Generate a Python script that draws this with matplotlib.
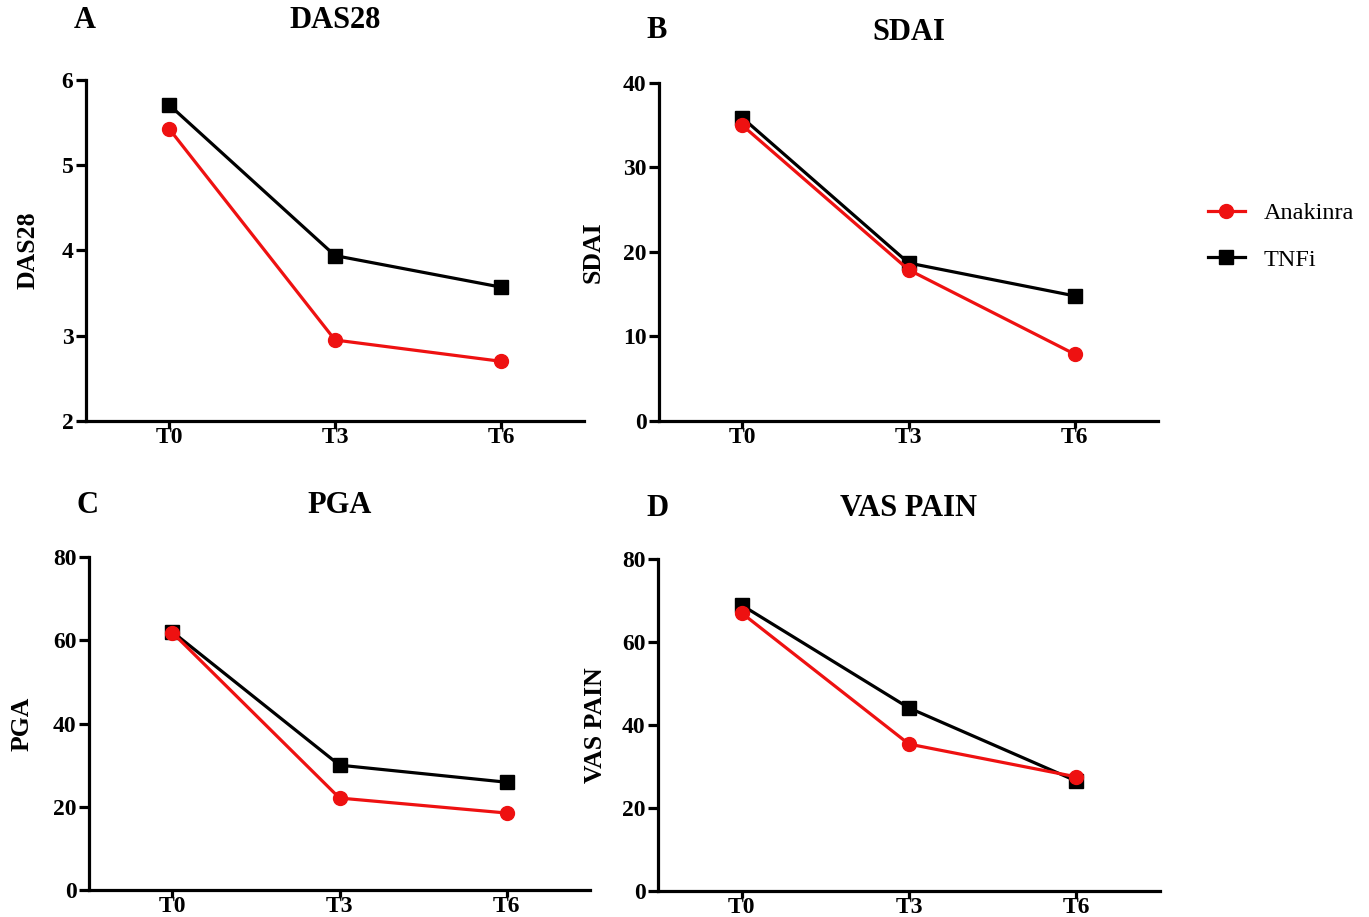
import matplotlib
matplotlib.use('Agg')
import matplotlib.pyplot as plt

plt.rcParams['font.family'] = ['Liberation Serif', 'DejaVu Serif']
plt.rcParams['font.weight'] = 'bold'

timepoints = ['T0', 'T3', 'T6']

das28_anakinra = [5.43, 2.95, 2.70]
das28_tnfi = [5.71, 3.94, 3.57]
sdai_anakinra = [35.0, 17.9, 7.9]
sdai_tnfi = [35.9, 18.7, 14.8]
pga_anakinra = [61.8, 22.1, 18.5]
pga_tnfi = [62.0, 30.0, 25.9]
vas_anakinra = [67.0, 35.4, 27.5]
vas_tnfi = [68.9, 44.1, 26.5]

panels = [
    # letter, title, anakinra, tnfi, ylim, yticks, axes rect, letter xy, title y, ylabel pad
    ('A', 'DAS28', das28_anakinra, das28_tnfi, (2, 6), [2, 3, 4, 5, 6],
     [0.0628, 0.5409, 0.3638, 0.3719], (0.062, 0.978), 0.978, 16),
    ('B', 'SDAI', sdai_anakinra, sdai_tnfi, (0, 40), [0, 10, 20, 30, 40],
     [0.4814, 0.5409, 0.3645, 0.3686], (0.480, 0.967), 0.965, 13),
    ('C', 'PGA', pga_anakinra, pga_tnfi, (0, 80), [0, 20, 40, 60, 80],
     [0.0650, 0.0294, 0.3660, 0.3632], (0.064, 0.449), 0.449, 14),
    ('D', 'VAS PAIN', vas_anakinra, vas_tnfi, (0, 80), [0, 20, 40, 60, 80],
     [0.4806, 0.0284, 0.3667, 0.3620], (0.480, 0.446), 0.446, 11),
]

fig = plt.figure(figsize=(13.69, 9.17), dpi=100)

for letter, title, ana, tnf, ylim, yticks, rect, lxy, ty, lpad in panels:
    ax = fig.add_axes(rect)
    x = range(len(timepoints))
    ax.plot(x, tnf, color='black', marker='s', markersize=10, linewidth=2.3,
            label='TNFi', zorder=3)
    ax.plot(x, ana, color='#ee1111', marker='o', markersize=10, linewidth=2.3,
            label='Anakinra', zorder=4)
    ax.set_xlim(-0.5, 2.5)
    ax.set_ylim(*ylim)
    ax.set_yticks(yticks)
    ax.set_xticks(list(x))
    ax.set_xticklabels(timepoints)
    for s in ['top', 'right']:
        ax.spines[s].set_visible(False)
    for s in ['left', 'bottom']:
        ax.spines[s].set_linewidth(2.3)
    ax.tick_params(axis='y', length=7, width=2.3, labelsize=17, pad=2)
    ax.tick_params(axis='x', length=5, width=2.3, labelsize=17, pad=-1)
    ax.set_ylabel(title, fontsize=18.5, fontweight='bold', labelpad=lpad)
    fig.text(rect[0] + rect[2] / 2, ty, title, fontsize=22, fontweight='bold',
             ha='center', va='center')
    fig.text(lxy[0], lxy[1], letter, fontsize=22, fontweight='bold',
             ha='center', va='center')
    if letter == 'B':
        handles, labels = ax.get_legend_handles_labels()

# legend: Anakinra first
fig.legend(handles[::-1], labels[::-1], loc='center left',
           bbox_to_anchor=(0.8665, 0.742), frameon=False,
           prop={'family': 'Liberation Serif', 'weight': 'normal', 'size': 17.5},
           handlelength=1.5, handletextpad=0.8, labelspacing=1.0)

fig.savefig('out.png', dpi=100)
